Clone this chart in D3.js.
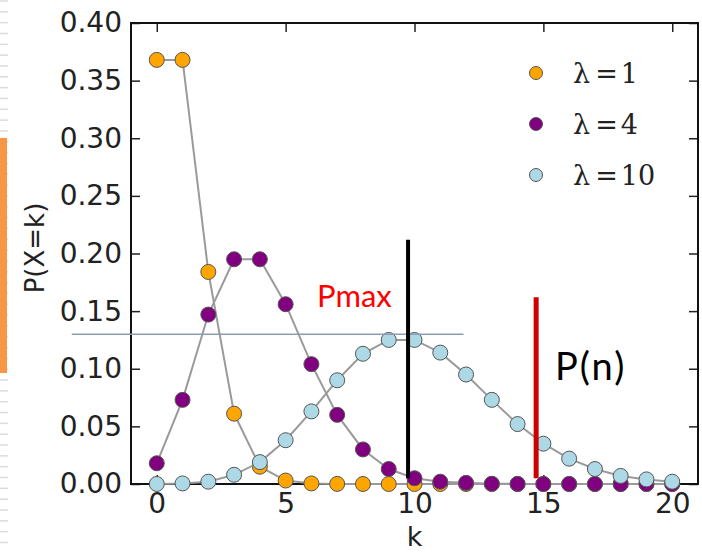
<!DOCTYPE html>
<html>
<head>
<meta charset=utf-8>
<style>
body {margin: 0; background: #fff;}
svg {display: block;}
.tick text {font-family: 'DejaVu Sans', sans-serif; font-size: 28px; fill: #222;}
.tick line {stroke: #222; stroke-width: 1.5;}
</style>
</head>
<body>
<svg id=chart width=702 height=553></svg>

<script src='https://cdn.jsdelivr.net/npm/d3@7/dist/d3.min.js'></script>
<script>
// k values and Poisson probabilities
var kValues = d3.range(0, 21);
var lambda1 = [0.368, 0.368, 0.184, 0.061, 0.015, 0.003, 0.0005, 0.0001, 0, 0, 0,
               0, 0, 0, 0, 0, 0, 0, 0, 0, 0];
var lambda4 = [0.018, 0.073, 0.147, 0.195, 0.195, 0.156, 0.104, 0.060, 0.030, 0.013, 0.005,
               0.002, 0.001, 0.0002, 0.0001, 0, 0, 0, 0, 0, 0];
var lambda10 = [0.00005, 0.0005, 0.002, 0.008, 0.019, 0.038, 0.063, 0.090, 0.113, 0.125, 0.125,
                0.114, 0.095, 0.073, 0.052, 0.035, 0.022, 0.013, 0.007, 0.004, 0.002];
var seriesNames = ['1', '4', '10'];
var seriesColors = ['#ffa500', '#800080', '#add8e6'];
var xTicks = [0, 5, 10, 15, 20];
var yTicks = [0, 0.05, 0.10, 0.15, 0.20, 0.25, 0.30, 0.35, 0.40];

var svg = d3.select('#chart');
var margin = {top: 23, right: 4, bottom: 69, left: 131};
var W = +svg.attr('width'), H = +svg.attr('height');

var x = d3.scaleLinear().domain([-1, 21]).range([margin.left, W - margin.right]);
var y = d3.scaleLinear().domain([0, 0.4]).range([H - margin.bottom, margin.top]);

//ruler marks and orange bar on the far left
svg.append('g').selectAll('line')
    .data(d3.range(1, H, 10.83))
  .enter().append('line')
    .attr('x1', 0).attr('x2', 8)
    .attr('y1', function(d) { return d; }).attr('y2', function(d) { return d; })
    .attr('stroke', '#dcdcdc').attr('stroke-width', 1.5);
svg.append('rect')
    .attr('x', 0).attr('y', 138).attr('width', 7).attr('height', 235)
    .attr('fill', '#f79646');

//axes, ticks point inward like matplotlib
function styleAxis(g) { g.select('.domain').remove(); }
svg.append('g')
    .attr('transform', 'translate(' + x.range()[0] + ',0)')
    .call(d3.axisLeft(y).tickValues(yTicks).tickFormat(d3.format('.2f'))
      .tickSizeInner(-9).tickSizeOuter(0).tickPadding(9))
    .call(styleAxis);
svg.append('g')
    .attr('transform', 'translate(' + x.range()[1] + ',0)')
    .call(d3.axisRight(y).tickValues(yTicks).tickFormat('')
      .tickSizeInner(-9).tickSizeOuter(0))
    .call(styleAxis);
svg.append('g')
    .attr('transform', 'translate(0,' + y.range()[0] + ')')
    .call(d3.axisBottom(x).tickValues(xTicks)
      .tickSizeInner(-9).tickSizeOuter(0).tickPadding(9))
    .call(styleAxis);
svg.append('g')
    .attr('transform', 'translate(0,' + y.range()[1] + ')')
    .call(d3.axisTop(x).tickValues(xTicks).tickFormat('')
      .tickSizeInner(-9).tickSizeOuter(0))
    .call(styleAxis);

//frame
svg.append('rect')
    .attr('x', x.range()[0]).attr('y', y.range()[1])
    .attr('width', x.range()[1] - x.range()[0])
    .attr('height', y.range()[0] - y.range()[1])
    .attr('fill', 'none').attr('stroke', '#111').attr('stroke-width', 2);

//axis titles
svg.append('text')
    .attr('x', x(10)).attr('y', 546)
    .attr('text-anchor', 'middle')
    .style('font-family', 'DejaVu Sans').style('font-size', '27px').attr('fill', '#222')
    .text('k');
svg.append('text')
    .attr('transform', 'translate(44,248) rotate(-90)')
    .attr('text-anchor', 'middle')
    .style('font-family', 'DejaVu Sans').style('font-size', '26px').attr('fill', '#222')
    .text('P(X=k)');

//series: gray line then coloured markers
var allSeries = [lambda1, lambda4, lambda10];
var line = d3.line()
    .x(function(d, i) { return x(kValues[i]); })
    .y(function(d) { return y(d); });

allSeries.forEach(function(vals, s) {
  var g = svg.append('g');
  g.append('path')
      .datum(vals)
      .attr('d', line)
      .attr('fill', 'none').attr('stroke', '#9a9a9a').attr('stroke-width', 2);
  g.selectAll('circle')
      .data(vals)
    .enter().append('circle')
      .attr('cx', function(d, i) { return x(kValues[i]); })
      .attr('cy', function(d) { return y(d); })
      .attr('r', 7.5)
      .attr('fill', seriesColors[s])
      .attr('stroke', '#555').attr('stroke-width', 1);
});

//legend
var legend = svg.append('g');
seriesNames.forEach(function(name, i) {
  var cy = 73 + i * 51;
  legend.append('circle')
      .attr('cx', 536).attr('cy', cy).attr('r', 6.5)
      .attr('fill', seriesColors[i]).attr('stroke', '#555').attr('stroke-width', 1);
  var t = legend.append('text')
      .attr('x', 573).attr('y', cy + 10)
      .style('font-family', 'DejaVu Serif, serif').style('font-size', '27px')
      .attr('fill', '#222');
  t.append('tspan').text('\u03bb');
  t.append('tspan').attr('dx', 5).text('=');
  t.append('tspan').attr('dx', 3).text(name);
});

//annotations drawn over the chart
var pmax = 0.13;
svg.append('line')
    .attr('x1', x(-3.3)).attr('x2', x(11.9))
    .attr('y1', y(pmax)).attr('y2', y(pmax))
    .attr('stroke', '#8b9db3').attr('stroke-width', 1.5);
svg.append('line')
    .attr('x1', x(9.75)).attr('x2', x(9.75))
    .attr('y1', y(0.212)).attr('y2', y(0.005))
    .attr('stroke', '#000').attr('stroke-width', 4);
svg.append('line')
    .attr('x1', x(14.72)).attr('x2', x(14.72))
    .attr('y1', y(0.162)).attr('y2', y(0.005))
    .attr('stroke', '#cc0000').attr('stroke-width', 5);
svg.append('text')
    .attr('x', x(6.22)).attr('y', y(0.1536))
    .style('font-family', 'Lato, sans-serif').style('font-size', '31px')
    .attr('fill', '#ff0000')
    .text('Pmax');
svg.append('text')
    .attr('x', x(15.45)).attr('y', y(0.09))
    .style('font-family', 'Lato, sans-serif').style('font-size', '38px')
    .style('letter-spacing', '2px')
    .attr('fill', '#000')
    .text('P(n)');
</script>
</body>
</html>
